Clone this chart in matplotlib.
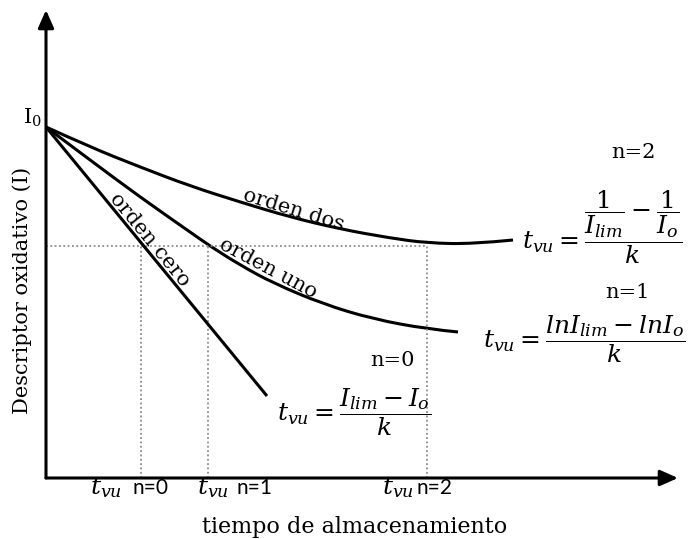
import matplotlib
matplotlib.use("Agg")
import matplotlib.pyplot as plt
from matplotlib.path import Path
from matplotlib.patches import PathPatch

plt.rcParams['font.family'] = ['DejaVu Serif']
plt.rcParams['mathtext.fontset'] = 'dejavuserif'

# schematic values (arbitrary units: time from the y axis, descriptor from the x axis)
I0 = 351
I_lim = 232
t_vu = [95, 162, 381]
tick_names = ["n=0", "n=1", "n=2"]

t_cero = [0, 221]
I_cero = [351, 82]

t_uno = [0, 44, 94, 144, 164, 194, 227, 277, 327, 381, 412]
I_uno = [351, 318, 281, 246, 232, 213, 195, 174, 159, 149, 146]

t_dos = [0, 44, 94, 144, 194, 244, 294, 344, 381, 427, 467]
I_dos = [351, 331, 311, 292, 276, 261, 249, 240, 235, 234, 238]


def smooth_curve(ax, xs, ys, **kw):
    # quadratic bezier through the read points (points act as control points)
    pts = list(zip(xs, ys))
    verts = [pts[0]]
    codes = [Path.MOVETO]
    for i in range(1, len(pts) - 1):
        mid = ((pts[i][0] + pts[i + 1][0]) / 2, (pts[i][1] + pts[i + 1][1]) / 2)
        if i == len(pts) - 2:
            mid = pts[-1]
        verts += [pts[i], mid]
        codes += [Path.CURVE3, Path.CURVE3]
    ax.add_patch(PathPatch(Path(verts, codes), fill=False, **kw))


fig = plt.figure(figsize=(6.97, 5.39), dpi=100)
ax = fig.add_axes([46 / 697, 61 / 539, 632 / 697, 468 / 539])
ax.set_xlim(0, 632)
ax.set_ylim(0, 468)
ax.axis('off')

# axes with arrows
arrow = dict(arrowstyle='-|>,head_length=0.9,head_width=0.4', lw=2.2, color='k',
             shrinkA=0, shrinkB=0, mutation_scale=12)
ax.annotate('', xy=(1, 0), xytext=(0, 0), xycoords='axes fraction', arrowprops=arrow)
ax.annotate('', xy=(0, 1), xytext=(0, 0), xycoords='axes fraction', arrowprops=arrow)

# dotted guides
dot = dict(color='#8c8c8c', lw=1.3, ls=(0, (1, 1.4)))
ax.plot([0, t_vu[2]], [I_lim, I_lim], **dot)
for t in t_vu:
    ax.plot([t, t], [0, I_lim], **dot)

# curves
ax.plot(t_cero, I_cero, color='k', lw=2.2, solid_capstyle='butt')
smooth_curve(ax, t_uno, I_uno, edgecolor='k', lw=2.2, capstyle='butt')
smooth_curve(ax, t_dos, I_dos, edgecolor='k', lw=2.2, capstyle='butt')

# curve labels
ax.text(104, 238, "orden cero", fontsize=15, rotation=-50.6, rotation_mode='anchor',
        ha='center', va='center')
ax.text(222, 210, "orden uno", fontsize=15, rotation=-28, rotation_mode='anchor',
        ha='center', va='center')
ax.text(248, 268, "orden dos", fontsize=15, rotation=-17, rotation_mode='anchor',
        ha='center', va='center')

ax.text(-4, 360, r"$\mathrm{I}_0$", fontsize=15, ha='right', va='center')

# formulas
ax.text(587, 325, "n=2", fontsize=15, ha='center', va='center')
ax.text(476, 229, r"$t_{vu}=\dfrac{\dfrac{1}{I_{lim}}-\dfrac{1}{I_o}}{k}$",
        fontsize=18, ha='left', va='baseline')
ax.text(581, 185, "n=1", fontsize=15, ha='center', va='center')
ax.text(437, 130, r"$t_{vu}=\dfrac{lnI_{lim}-lnI_o}{k}$",
        fontsize=18, ha='left', va='baseline')
ax.text(346, 118, "n=0", fontsize=15, ha='center', va='center')
ax.text(231, 57, r"$t_{vu}=\dfrac{I_{lim}-I_o}{k}$",
        fontsize=18, ha='left', va='baseline')

# tick labels under the x axis (left edge of t_vu, left edge of n=...)
label_at = [(44, 87), (151, 191), (336, 371)]
for (xt, xn), name in zip(label_at, tick_names):
    ax.text(xt, -16, r"$t_{vu}$", fontsize=18, ha='left', va='baseline')
    ax.text(xn, -16, name, fontsize=15, family=['Lato', 'DejaVu Sans'],
            ha='left', va='baseline')

fig.text(22 / 697, 1 - 290 / 539, "Descriptor oxidativo (I)", fontsize=15,
         rotation=90, ha='center', va='center')
fig.text(355 / 697, 1 - 527 / 539, "tiempo de almacenamiento", fontsize=16,
         ha='center', va='center')

fig.savefig("out.png", dpi=100)
